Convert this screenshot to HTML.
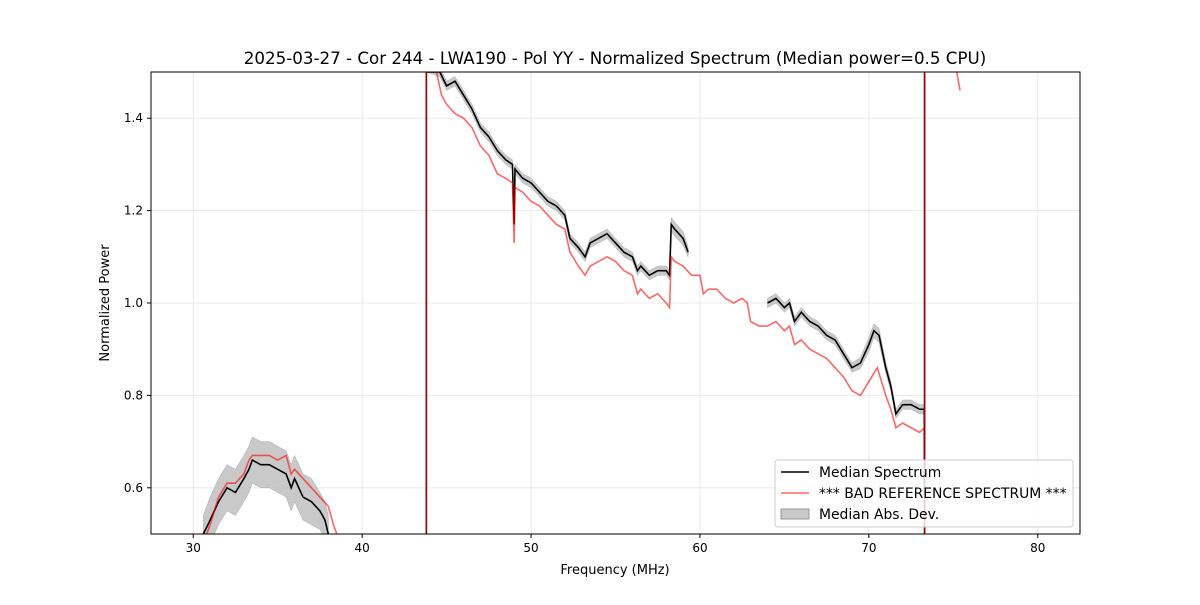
<!DOCTYPE html>
<html><head><meta charset="utf-8"><style>
body{margin:0;background:#fff;font-family:"Liberation Sans",sans-serif;}
svg text{font-family:"DejaVu Sans","Liberation Sans",sans-serif;}
</style></head><body>
<svg id="chart" width="1200" height="600" xmlns="http://www.w3.org/2000/svg">
<rect width="1200" height="600" fill="#fff"/>
<text x="615" y="64" font-size="16.7" text-anchor="middle">2025-03-27 - Cor 244 - LWA190 - Pol YY - Normalized Spectrum (Median power=0.5 CPU)</text>
<g id="grid"></g>
<defs><clipPath id="clip"><rect x="151" y="72" width="929" height="462"/></clipPath></defs>
<g id="plot" clip-path="url(#clip)"></g>
<rect x="151" y="72" width="929" height="462" fill="none" stroke="#000" stroke-width="1"/>
<g id="axes"></g>
<text x="615" y="574" font-size="13" text-anchor="middle">Frequency (MHz)</text>
<text transform="translate(109,303) rotate(-90)" font-size="13" text-anchor="middle">Normalized Power</text>
<g>
<rect x="775" y="460" width="298" height="67" rx="3" fill="#fff" fill-opacity="0.8" stroke="#ccc"/>
<line x1="781" y1="472" x2="809" y2="472" stroke="#000" stroke-width="1.5"/>
<text x="819" y="477" font-size="13.9">Median Spectrum</text>
<line x1="781" y1="493" x2="809" y2="493" stroke="#ff0000" stroke-opacity="0.6" stroke-width="1.5"/>
<text x="819" y="498" font-size="13.9">*** BAD REFERENCE SPECTRUM ***</text>
<rect x="781" y="509" width="28" height="10" fill="#bbb" fill-opacity="0.8" stroke="#999"/>
<text x="819" y="519" font-size="13.9">Median Abs. Dev.</text>
</g>
</svg>
<script>
const xTicks=[30,40,50,60,70,80];
const yTicks=[0.6,0.8,1.0,1.2,1.4];
const medFreq=[30.6,31,31.5,32,32.5,33,33.3,33.5,34,34.5,35,35.5,35.8,36,36.5,37,37.5,37.8,38,null,43.8,43.8,44.6,45,45.5,46,46.5,47,47.5,48,48.5,48.9,49,49.05,49.5,50,50.5,51,51.5,52,52.3,52.8,53.2,53.5,54,54.5,55,55.5,56,56.3,56.5,57,57.5,58,58.2,58.3,58.5,59,59.3,null,64,64.5,65,65.3,65.6,66,66.5,67,67.5,68,68.5,69,69.5,70,70.3,70.6,71,71.3,71.6,72,72.5,73,73.28,73.3,73.3];
const medVal=[0.5,0.53,0.57,0.6,0.59,0.62,0.64,0.66,0.65,0.65,0.64,0.63,0.6,0.62,0.58,0.57,0.55,0.53,0.5,null,0.5,1.5,1.5,1.47,1.48,1.45,1.42,1.38,1.36,1.33,1.31,1.3,1.17,1.29,1.27,1.26,1.24,1.22,1.21,1.19,1.14,1.12,1.1,1.13,1.14,1.15,1.13,1.11,1.1,1.07,1.08,1.06,1.07,1.07,1.06,1.17,1.16,1.14,1.11,null,1.0,1.01,0.99,1.0,0.96,0.98,0.96,0.95,0.93,0.92,0.89,0.86,0.87,0.91,0.94,0.93,0.86,0.82,0.76,0.78,0.78,0.77,0.77,0.5,1.5];
const mad=[0.04,0.05,0.05,0.05,0.05,0.05,0.05,0.05,0.05,0.05,0.05,0.05,0.05,0.05,0.05,0.05,0.04,0.04,0.04,null,0,0,0.01,0.01,0.01,0.01,0.01,0.01,0.01,0.01,0.01,0.01,0,0.01,0.01,0.01,0.01,0.01,0.01,0.01,0.01,0.01,0.01,0.01,0.01,0.01,0.01,0.01,0.01,0.01,0.01,0.01,0.01,0.01,0.01,0.015,0.015,0.015,0.01,null,0.01,0.01,0.01,0.01,0.01,0.01,0.01,0.01,0.01,0.01,0.01,0.01,0.012,0.015,0.015,0.015,0.012,0.01,0.01,0.01,0.01,0.01,0.01,0,0];
const refFreq=[30.8,31,31.5,32,32.5,33,33.3,33.5,34,34.5,35,35.5,35.8,36,36.5,37,37.5,38,38.3,38.5,null,43.8,43.8,44.4,44.7,45,45.5,46,46.5,47,47.5,48,48.5,48.9,49,49.05,49.5,50,50.5,51,51.5,52,52.3,52.8,53.2,53.5,54,54.5,55,55.5,56,56.3,56.5,57,57.5,58,58.2,58.3,58.5,59,59.5,60,60.2,60.5,61,61.5,62,62.5,62.8,63,63.5,64,64.5,65,65.3,65.6,66,66.5,67,67.5,68,68.5,69,69.5,70,70.5,71,71.3,71.6,72,72.5,73,73.3,73.3,73.3,null,75.2,75.4];
const refVal=[0.5,0.52,0.58,0.61,0.61,0.63,0.66,0.67,0.67,0.67,0.66,0.67,0.63,0.64,0.62,0.6,0.58,0.56,0.52,0.5,null,0.5,1.5,1.5,1.45,1.43,1.41,1.4,1.38,1.34,1.32,1.28,1.27,1.26,1.13,1.25,1.24,1.22,1.21,1.19,1.17,1.16,1.11,1.08,1.06,1.08,1.09,1.1,1.09,1.07,1.06,1.02,1.03,1.01,1.02,1.0,0.99,1.1,1.09,1.08,1.06,1.06,1.02,1.03,1.03,1.01,1.0,1.01,1.0,0.96,0.95,0.95,0.96,0.94,0.95,0.91,0.92,0.9,0.89,0.88,0.86,0.84,0.81,0.8,0.83,0.86,0.8,0.77,0.73,0.74,0.73,0.72,0.73,0.5,1.5,null,1.5,1.46];

const X0=151,X1=1080,Y0=72,Y1=534,XMIN=27.5,XMAX=82.5,YMIN=0.5,YMAX=1.5;
const sx=v=>X0+(v-XMIN)/(XMAX-XMIN)*(X1-X0);
const sy=v=>Y1-(v-YMIN)/(YMAX-YMIN)*(Y1-Y0);
const NS='http://www.w3.org/2000/svg';
function mk(tag,attrs,parent){const e=document.createElementNS(NS,tag);for(const k in attrs)e.setAttribute(k,attrs[k]);parent.appendChild(e);return e;}
const grid=document.getElementById('grid'),axes=document.getElementById('axes'),plot=document.getElementById('plot');
xTicks.forEach(t=>{
  const g=mk('line',{x1:sx(t),x2:sx(t),y1:Y0,y2:Y1,stroke:'#e6e6e6','stroke-width':0.8},grid);
  
  
  const tk=mk('line',{x1:sx(t),x2:sx(t),y1:Y1,y2:Y1+4,stroke:'#000'},axes);
  
  
  const tx=mk('text',{x:sx(t),y:Y1+18,'font-size':12,'text-anchor':'middle'},axes);
  tx.textContent=t;
  
  
});
yTicks.forEach(t=>{
  const g=mk('line',{x1:X0,x2:X1,y1:sy(t),y2:sy(t),stroke:'#e6e6e6','stroke-width':0.8},grid);
  
  
  const tk=mk('line',{x1:X0-4,x2:X0,y1:sy(t),y2:sy(t),stroke:'#000'},axes);
  
  
  const tx=mk('text',{x:X0-8,y:sy(t)+4,'font-size':12,'text-anchor':'end'},axes);
  tx.textContent=t.toFixed(1);
  
  
});
function segments(fs,vs){const out=[];let cur=[];fs.forEach((f,i)=>{if(f===null||vs[i]===null){if(cur.length)out.push(cur);cur=[];}else cur.push(i);});if(cur.length)out.push(cur);return out;}
segments(medFreq,medVal).forEach(seg=>{
  const up=seg.map(i=>sx(medFreq[i])+','+sy(medVal[i]+mad[i]));
  const lo=seg.slice().reverse().map(i=>sx(medFreq[i])+','+sy(medVal[i]-mad[i]));
  const p=mk('polygon',{points:up.concat(lo).join(' '),fill:'#bbb','fill-opacity':0.8,stroke:'#aaa','stroke-width':0.5},plot);
  
  
});
segments(medFreq,medVal).forEach(seg=>{
  const p=mk('polyline',{points:seg.map(i=>sx(medFreq[i])+','+sy(medVal[i])).join(' '),fill:'none',stroke:'#000','stroke-width':1.6},plot);
  
  
});
segments(refFreq,refVal).forEach(seg=>{
  const p=mk('polyline',{points:seg.map(i=>sx(refFreq[i])+','+sy(refVal[i])).join(' '),fill:'none',stroke:'#ff0000','stroke-opacity':0.6,'stroke-width':1.6},plot);
  
  
});
</script>
</body></html>
